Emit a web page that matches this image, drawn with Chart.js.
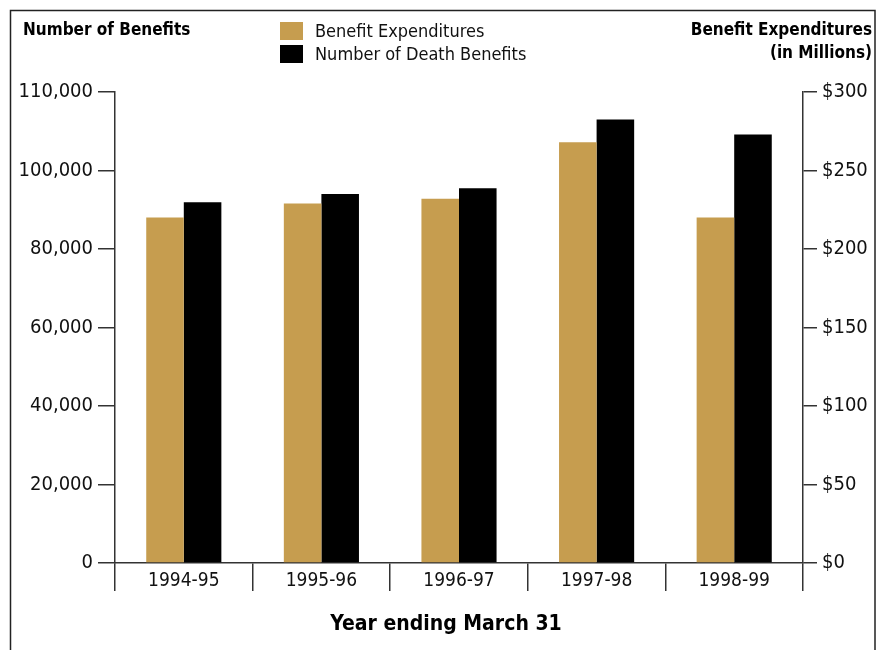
<!DOCTYPE html>
<html>
<head>
<meta charset="utf-8">
<script src="https://cdn.jsdelivr.net/npm/chart.js@4"></script>
<style>
  html, body { margin: 0; padding: 0; background: #fff; }
  #wrap { position: relative; width: 881px; height: 650px; }
</style>
</head>
<body>
<div id="wrap"><canvas id="c" width="881" height="650"></canvas></div>
<script>
const categories = ['1994-95', '1995-96', '1996-97', '1997-98', '1998-99'];
const expenditures = [220, 229, 232, 268, 220];          // $ millions, right axis
const deathBenefits = [91900, 94000, 95500, 113000, 109200]; // count, left axis
const leftTickValues = [0, 20000, 40000, 60000, 80000, 100000, 120000];
const leftTickLabels = ['0', '20,000', '40,000', '60,000', '80,000', '100,000', '110,000'];
const rightTickValues = [0, 50, 100, 150, 200, 250, 300];
const rightTickLabels = ['$0', '$50', '$100', '$150', '$200', '$250', '$300'];

const FONT = "'Liberation Sans Narrow', 'DejaVu Sans Condensed', 'Arial Narrow', 'Roboto Condensed', sans-serif";
const GOLD = '#C69D4F';
const AXIS = '#333333';

const decor = {
  id: 'decor',
  beforeDraw(chart) {
    const ctx = chart.ctx;
    ctx.save();
    ctx.strokeStyle = '#222';
    ctx.lineWidth = 1.5;
    ctx.beginPath();
    ctx.moveTo(10.5, 650); ctx.lineTo(10.5, 10.5); ctx.lineTo(875, 10.5); ctx.lineTo(875, 650);
    ctx.stroke();
    ctx.restore();
  },
  afterDraw(chart) {
    const ctx = chart.ctx;
    ctx.save();
    ctx.fillStyle = '#000';
    ctx.textBaseline = 'middle';
    ctx.font = "bold 17px " + FONT;
    ctx.textAlign = 'left';
    ctx.fillText('Number of Benefits', 23, 31);
    ctx.textAlign = 'right';
    ctx.fillText('Benefit Expenditures', 872, 31);
    ctx.fillText('(in Millions)', 872, 54);
    // x-axis title
    ctx.textAlign = 'center';
    ctx.font = "bold 21px " + FONT;
    ctx.fillText('Year ending March 31', 446, 625);
    // legend
    ctx.textAlign = 'left';
    ctx.font = "18px " + FONT;
    chart.data.datasets.forEach((ds, i) => {
      const y = 31 + i * 23;
      ctx.fillStyle = ds.backgroundColor;
      ctx.fillRect(280, y - 9, 23, 18);
      ctx.fillStyle = '#111';
      ctx.fillText(ds.label, 315, y + 1);
    });
    ctx.restore();
  }
};

new Chart(document.getElementById('c'), {
  type: 'bar',
  data: {
    labels: categories,
    datasets: [
      { label: 'Benefit Expenditures', data: expenditures, backgroundColor: GOLD, yAxisID: 'y1',
        barPercentage: 1.0, categoryPercentage: 0.546 },
      { label: 'Number of Death Benefits', data: deathBenefits, backgroundColor: '#000', yAxisID: 'y',
        barPercentage: 1.0, categoryPercentage: 0.546 }
    ]
  },
  options: {
    responsive: false,
    animation: false,
    layout: { padding: { top: 92, bottom: 0, left: 0, right: 0 } },
    plugins: { legend: { display: false }, tooltip: { enabled: false } },
    scales: {
      x: {
        offset: true,
        grid: { display: true, drawOnChartArea: false, offset: true, tickLength: 28, color: AXIS, lineWidth: 1.5 },
        border: { display: true, color: AXIS, width: 1.5 },
        ticks: { font: { family: FONT, size: 19 }, color: '#111', padding: -21 },
        afterFit(s) { s.height = 87; }
      },
      y: {
        position: 'left',
        min: 0, max: 120000,
        afterBuildTicks(s) { s.ticks = leftTickValues.map(v => ({ value: v })); },
        grid: { drawOnChartArea: false, tickLength: 17, color: AXIS, lineWidth: 1.5 },
        border: { display: true, color: AXIS, width: 1.5 },
        ticks: { font: { family: FONT, size: 20 }, color: '#111', padding: 5,
                 callback(v) { const i = leftTickValues.indexOf(v); return i >= 0 ? leftTickLabels[i] : ''; } },
        afterFit(s) { s.width = 115; }
      },
      y1: {
        position: 'right',
        min: 0, max: 300,
        afterBuildTicks(s) { s.ticks = rightTickValues.map(v => ({ value: v })); },
        grid: { drawOnChartArea: false, tickLength: 14, color: AXIS, lineWidth: 1.5 },
        border: { display: true, color: AXIS, width: 1.5 },
        ticks: { font: { family: FONT, size: 20 }, color: '#111', padding: 5,
                 callback(v) { const i = rightTickValues.indexOf(v); return i >= 0 ? rightTickLabels[i] : ''; } },
        afterFit(s) { s.width = 78; }
      }
    }
  },
  plugins: [decor]
});
</script>
</body>
</html>
